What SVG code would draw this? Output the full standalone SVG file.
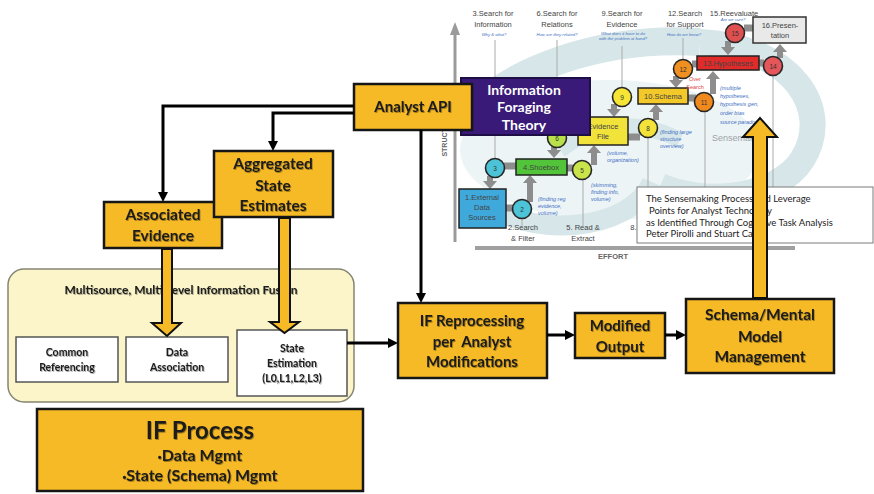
<svg xmlns="http://www.w3.org/2000/svg" width="874" height="494" viewBox="0 0 874 494">
<defs>
<style>
.box{fill:#F6BA26;stroke:#161616;stroke-width:2.5}
.lbl{font-family:Lato,"Liberation Sans",sans-serif;font-weight:700;fill:#1b1b1b;text-anchor:middle}
.wire{fill:none;stroke:#000;stroke-width:3}
.blk{fill:#F6BA26;stroke:#111;stroke-width:2}
.sub{fill:#fff;stroke:#555;stroke-width:1.5}
.fig{font-family:"Liberation Sans",Arial,sans-serif;text-anchor:middle;fill:#444;font-size:7.5px}
.note{font-family:"Liberation Sans",Arial,sans-serif;font-style:italic;fill:#3e6fc3;font-size:5.5px}
.q{font-family:"Liberation Sans",Arial,sans-serif;font-style:italic;fill:#3e6fc3;font-size:4.2px;text-anchor:middle}
.gl{stroke:#ababab;stroke-width:1;fill:none}
.gb{stroke:#8d8d8d;stroke-width:7;fill:none}
.ga{stroke:#8d8d8d;stroke-width:6;fill:none}
.num{font-family:"Liberation Sans",Arial,sans-serif;font-size:6.5px;text-anchor:middle;fill:#333}
.ring{stroke:#262626;stroke-width:1.6}
.swirl{fill:none;stroke:#d6e6e9}
.cap{font-family:Lato,"Liberation Sans",sans-serif;font-size:9.5px;fill:#222}
.dot{font-family:"Liberation Sans",sans-serif;font-size:11px}
</style>
<marker id="ah" viewBox="0 0 10 10" refX="0" refY="5" markerWidth="10" markerHeight="10" markerUnits="userSpaceOnUse" orient="auto"><path d="M0,0 L10,5 L0,10 z" fill="#000"/></marker>
<marker id="gh" viewBox="0 0 8 14" refX="0" refY="7" markerWidth="8" markerHeight="14" markerUnits="userSpaceOnUse" orient="auto"><path d="M0,0 L8,7 L0,14 z" fill="#8d8d8d"/></marker>
<filter id="sh" x="-10%" y="-20%" width="120%" height="150%"><feDropShadow dx="0.8" dy="1" stdDeviation="0.7" flood-color="#000" flood-opacity="0.35"/></filter>
</defs>

<!-- Sensemaking loop figure (Pirolli & Card) -->
<g id="sensemaking-figure">
  <ellipse cx="610" cy="150" rx="150" ry="70" fill="#e6f0f2" opacity="0.7"/>
  <path class="swirl" stroke-width="28" d="M468,116 C510,70 600,36 700,42"/>
  <path class="swirl" stroke-width="26" d="M700,42 C792,46 834,110 802,160 C777,198 705,206 660,186"/>
  <path class="swirl" stroke-width="20" d="M480,200 C530,240 630,232 652,182"/>
  <path class="swirl" stroke-width="16" d="M560,150 C600,120 640,120 680,140"/>

  <!-- axes -->
  <path d="M455,242 V34" stroke="#9a9a9a" stroke-width="3" fill="none"/>
  <path d="M450,35 L455,22 L460,35 z" fill="#9a9a9a"/>
  <path d="M475,248 H795" stroke="#a0a0a0" stroke-width="4" fill="none"/>
  <text x="447" y="135" transform="rotate(-90 447 135)" font-family="Liberation Sans, Arial, sans-serif" font-weight="700" font-size="7px" fill="#666" text-anchor="middle">STRUCTURE</text>
  <text x="613" y="259" font-family="Liberation Sans, Arial, sans-serif" font-weight="700" font-size="7.5px" fill="#666" text-anchor="middle">EFFORT</text>

  <!-- guide lines -->
  <path class="gl" d="M495,40 V160 M557,40 V130 M622,46 V88 M683,38 V60 M522,218 V226 M583,180 V226 M648,138 V226 M705,112 V228 M773,76 V228"/>

  <!-- column headings -->
  <text class="fig" x="493" y="16">3.Search for</text>
  <text class="fig" x="493" y="27">Information</text>
  <text class="q" x="494" y="36">Why &amp; what?</text>
  <text class="fig" x="557" y="16">6.Search for</text>
  <text class="fig" x="557" y="27">Relations</text>
  <text class="q" x="557" y="36">How are they related?</text>
  <text class="fig" x="622" y="16">9.Search for</text>
  <text class="fig" x="622" y="27">Evidence</text>
  <text class="q" x="623" y="35">What does it have to do</text>
  <text class="q" x="623" y="40">with the problem at hand?</text>
  <text class="fig" x="685" y="16">12.Search</text>
  <text class="fig" x="685" y="27">for Support</text>
  <text class="q" x="684" y="36">How do we know?</text>
  <text class="fig" x="734" y="16">15.Reevaluate</text>
  <text class="q" x="733" y="21">Are we sure?</text>

  <!-- grey flow arrows -->
  <path class="gb" d="M504,166 H516 M506,208 H513 M567,168 H574 M628,137 H640 M688,98 H696 M692,64 H697 M759,63 H764 M744,28 H753"/>
  <path class="ga" d="M490,176 V181" marker-end="url(#gh)"/>
  <path class="ga" d="M530,202 V183" marker-end="url(#gh)"/>
  <path class="ga" d="M594,165 V153" marker-end="url(#gh)"/>
  <path class="ga" d="M554,145 V150" marker-end="url(#gh)"/>
  <path class="ga" d="M614,104 V109" marker-end="url(#gh)"/>
  <path class="ga" d="M656,120 V112" marker-end="url(#gh)"/>
  <path class="ga" d="M676,76 V80" marker-end="url(#gh)"/>
  <path class="ga" d="M713,94 V79" marker-end="url(#gh)"/>
  <path class="ga" d="M728,41 V47" marker-end="url(#gh)"/>
  <path class="ga" d="M780,58 V52" marker-end="url(#gh)"/>

  <!-- stage boxes -->
  <rect x="459" y="189" width="47" height="39" fill="#3fa9dc" stroke="#222" stroke-width="1.5"/>
  <text class="fig" x="482" y="200" font-size="6.5px" fill="#222">1.External</text>
  <text class="fig" x="482" y="210" font-size="6.5px" fill="#222">Data</text>
  <text class="fig" x="482" y="220" font-size="6.5px" fill="#222">Sources</text>
  <rect x="516" y="159" width="51" height="16" fill="#52c43a" stroke="#222" stroke-width="1.5"/>
  <text class="fig" x="541" y="170" font-size="6.5px" fill="#222">4.Shoebox</text>
  <rect x="578" y="117" width="50" height="28" fill="#f2e33b" stroke="#222" stroke-width="1.5"/>
  <text class="fig" x="603" y="129" font-size="6.5px" fill="#222">Evidence</text>
  <text class="fig" x="603" y="139" font-size="6.5px" fill="#222">File</text>
  <rect x="638" y="88" width="50" height="16" fill="#f3c829" stroke="#222" stroke-width="1.5"/>
  <text class="fig" x="663" y="99" font-size="6.5px" fill="#222">10.Schema</text>
  <rect x="697" y="56" width="62" height="14" fill="#e02b2b" stroke="#222" stroke-width="1.5"/>
  <text class="fig" x="728" y="66" font-size="6.5px" fill="#222">13.Hypotheses</text>
  <rect x="753" y="17" width="53" height="26" fill="#e9e9e9" stroke="#333" stroke-width="1.5"/>
  <text class="fig" x="780" y="28" font-size="6.5px" fill="#333">16.Presen-</text>
  <text class="fig" x="780" y="38" font-size="6.5px" fill="#333">tation</text>

  <!-- stage circles -->
  <circle class="ring" cx="495" cy="168" r="9.5" fill="#4cc3d6"/><text class="num" x="495" y="170.5">3</text>
  <circle class="ring" cx="522" cy="209" r="9.5" fill="#4cc3d6"/><text class="num" x="522" y="211.5">2</text>
  <circle class="ring" cx="557" cy="138" r="9.5" fill="#b8e04a"/><text class="num" x="557" y="140.5">6</text>
  <circle class="ring" cx="582" cy="170" r="9.5" fill="#c9e34a"/><text class="num" x="582" y="172.5">5</text>
  <circle class="ring" cx="648" cy="128" r="9.5" fill="#f2e23a"/><text class="num" x="648" y="130.5">8</text>
  <circle class="ring" cx="622" cy="97" r="9.5" fill="#f6e534"/><text class="num" x="622" y="99.5">9</text>
  <circle class="ring" cx="704" cy="102" r="9.5" fill="#f08a1e"/><text class="num" x="704" y="104.5">11</text>
  <circle class="ring" cx="683" cy="69" r="9.5" fill="#f09020"/><text class="num" x="683" y="71.5">12</text>
  <circle class="ring" cx="773" cy="66" r="9.5" fill="#e4565a"/><text class="num" x="773" y="68.5">14</text>
  <circle class="ring" cx="735" cy="33" r="9.5" fill="#e05050"/><text class="num" x="735" y="35.5">15</text>

  <!-- annotations -->
  <text class="note" x="538" y="201">(finding reg</text>
  <text class="note" x="538" y="208">evidence,</text>
  <text class="note" x="538" y="215">volume)</text>
  <text class="note" x="591" y="187">(skimming,</text>
  <text class="note" x="591" y="194">finding info,</text>
  <text class="note" x="591" y="201">volume)</text>
  <text class="note" x="607" y="155">(volume,</text>
  <text class="note" x="607" y="162">organization)</text>
  <text class="note" x="660" y="134">(finding large</text>
  <text class="note" x="660" y="141">structure</text>
  <text class="note" x="660" y="148">overview)</text>
  <text class="note" x="720" y="90">(multiple</text>
  <text class="note" x="720" y="98">hypotheses,</text>
  <text class="note" x="720" y="106">hypothesis gen,</text>
  <text class="note" x="720" y="115">order bias</text>
  <text class="note" x="720" y="124">source paradox)</text>
  <text x="695" y="81" font-family="Liberation Sans, Arial, sans-serif" font-size="5.5px" fill="#e0443a" text-anchor="middle">Over</text>
  <text x="695" y="89" font-family="Liberation Sans, Arial, sans-serif" font-size="5.5px" fill="#e0443a" text-anchor="middle">Search</text>
  <text x="712" y="141" font-family="Liberation Sans, Arial, sans-serif" font-size="9px" fill="#9aa3a6">Sensemaking</text>

  <!-- stage labels along the effort axis -->
  <text class="fig" x="523" y="230">2.Search</text>
  <text class="fig" x="523" y="241">&amp; Filter</text>
  <text class="fig" x="583" y="230">5. Read &amp;</text>
  <text class="fig" x="583" y="241">Extract</text>
  <text class="fig" x="636" y="230" text-anchor="end">8.S</text>
</g>

<!-- citation caption -->
<g id="citation">
  <rect x="637" y="187" width="236" height="56" fill="#fff" stroke="#7a7a7a" stroke-width="1"/>
  <text class="cap" x="646" y="202">The Sensemaking Process and Leverage</text>
  <text class="cap" x="649" y="214">Points for Analyst Technology</text>
  <text class="cap" x="646" y="226">as Identified Through Cognitive Task Analysis</text>
  <text class="cap" x="646" y="237">Peter Pirolli and Stuart Card</text>
</g>

<g id="information-foraging-theory">
  <rect x="461" y="78" width="129" height="57" fill="#3a1a78" stroke="#1d0f45" stroke-width="2"/>
  <text class="lbl" x="524" y="95" font-size="14px" style="fill:#fff">Information</text>
  <text class="lbl" x="524" y="112" font-size="14px" style="fill:#fff">Foraging</text>
  <text class="lbl" x="524" y="130" font-size="14px" style="fill:#fff">Theory</text>
</g>

<g id="analyst-api">
  <rect class="box" x="354" y="84" width="118" height="46"/>
  <text class="lbl" x="413" y="112" font-size="15px" filter="url(#sh)">Analyst API</text>
</g>

<!-- information fusion container -->
<g id="information-fusion">
  <rect x="8" y="269" width="346" height="133" rx="16" fill="#fbf5c9" stroke="#858573" stroke-width="1.5"/>
  <text class="lbl" x="181" y="294" font-size="12px" filter="url(#sh)">Multisource, Multi Level Information Fusion</text>
</g>
<g id="common-referencing">
  <rect class="sub" x="16" y="337" width="102" height="45"/>
  <text class="lbl" x="67" y="356" font-size="10.5px" filter="url(#sh)">Common</text>
  <text class="lbl" x="67" y="371" font-size="10.5px" filter="url(#sh)">Referencing</text>
</g>
<g id="data-association">
  <rect class="sub" x="126" y="337" width="102" height="45"/>
  <text class="lbl" x="177" y="356" font-size="10.5px" filter="url(#sh)">Data</text>
  <text class="lbl" x="177" y="371" font-size="10.5px" filter="url(#sh)">Association</text>
</g>
<g id="state-estimation">
  <rect class="sub" x="237" y="330" width="110" height="66"/>
  <text class="lbl" x="292" y="352" font-size="10.5px" filter="url(#sh)">State</text>
  <text class="lbl" x="292" y="367" font-size="10.5px" filter="url(#sh)">Estimation</text>
  <text class="lbl" x="292" y="382" font-size="10.5px" filter="url(#sh)">(L0,L1,L2,L3)</text>
</g>

<g id="if-process">
  <rect class="box" x="37" y="409" width="326" height="82"/>
  <text class="lbl" x="200" y="439" font-size="24px" filter="url(#sh)">IF Process</text>
  <text class="lbl" x="200" y="461" font-size="16px" filter="url(#sh)"><tspan class="dot">•</tspan>Data Mgmt</text>
  <text class="lbl" x="200" y="481" font-size="16px" filter="url(#sh)"><tspan class="dot">•</tspan>State (Schema) Mgmt</text>
</g>

<g id="associated-evidence">
  <rect class="box" x="104" y="202" width="118" height="46"/>
  <text class="lbl" x="163" y="220" font-size="15.5px" filter="url(#sh)">Associated</text>
  <text class="lbl" x="163" y="241" font-size="15.5px" filter="url(#sh)">Evidence</text>
</g>
<g id="aggregated-state-estimates">
  <rect class="box" x="214" y="151" width="119" height="66"/>
  <text class="lbl" x="273" y="169" font-size="15.5px" filter="url(#sh)">Aggregated</text>
  <text class="lbl" x="273" y="191" font-size="15.5px" filter="url(#sh)">State</text>
  <text class="lbl" x="273" y="211" font-size="15.5px" filter="url(#sh)">Estimates</text>
</g>

<g id="if-reprocessing">
  <rect class="box" x="398" y="303" width="149" height="75"/>
  <text class="lbl" x="472" y="326" font-size="15px" filter="url(#sh)">IF Reprocessing</text>
  <text class="lbl" x="472" y="347" font-size="15px" filter="url(#sh)" xml:space="preserve">per  Analyst</text>
  <text class="lbl" x="472" y="367" font-size="15px" filter="url(#sh)">Modifications</text>
</g>
<g id="modified-output">
  <rect class="box" x="575" y="313" width="90" height="45"/>
  <text class="lbl" x="620" y="331" font-size="15px" filter="url(#sh)">Modified</text>
  <text class="lbl" x="620" y="352" font-size="15px" filter="url(#sh)">Output</text>
</g>
<g id="schema-mental-model">
  <rect class="box" x="686" y="299" width="148" height="74"/>
  <text class="lbl" x="760" y="320" font-size="15.5px" filter="url(#sh)">Schema/Mental</text>
  <text class="lbl" x="760" y="342" font-size="15.5px" filter="url(#sh)">Model</text>
  <text class="lbl" x="760" y="362" font-size="15.5px" filter="url(#sh)">Management</text>
</g>

<!-- connectors -->
<g id="connectors">
  <path class="wire" d="M354,106 H163 V192" marker-end="url(#ah)"/>
  <path class="wire" d="M354,113 H273 V141" marker-end="url(#ah)"/>
  <path class="wire" d="M421,130 V293" marker-end="url(#ah)"/>
  <path class="wire" d="M347,343 H388" marker-end="url(#ah)"/>
  <path class="wire" d="M547,335 H565" marker-end="url(#ah)"/>
  <path class="wire" d="M665,335 H676" marker-end="url(#ah)"/>
  <polygon class="blk" points="162,249 172,249 172,323 181,323 167,336 152,323 162,323"/>
  <polygon class="blk" points="279,218 290,218 290,322 299,322 284.5,333 270,322 279,322"/>
  <polygon class="blk" points="753,298 767,298 767,137 777,137 760,118 743,137 753,137"/>
</g>
</svg>
